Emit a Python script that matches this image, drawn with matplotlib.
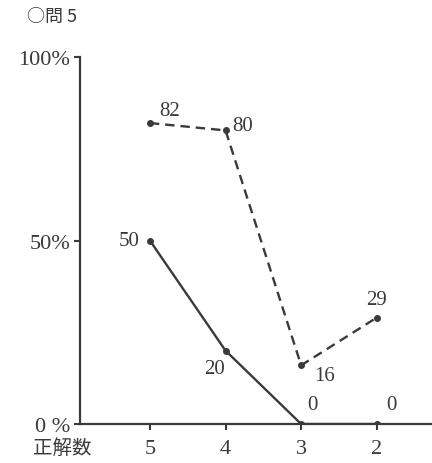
import matplotlib
matplotlib.use("Agg")
import matplotlib.pyplot as plt

plt.rcParams["font.family"] = ["Liberation Serif", "Noto Sans CJK JP"]

# ---------------------------------------------------------------------------
# Data
# ---------------------------------------------------------------------------
categories = ["5", "4", "3", "2"]
solid_vals = [50, 20, 0, 0]
dashed_vals = [82, 80, 16, 29]
ytick_vals = [0, 50, 100]
ytick_labels = ["0 %", "50%", "100%"]

INK = "#3a3a3a"

fig = plt.figure(figsize=(4.32, 4.64), dpi=100)
ax = fig.add_axes([0.185, 0.084, 0.815, 0.791])

x = list(range(len(categories)))
ax.plot(x, solid_vals, color=INK, lw=1.7, marker="o", ms=4, zorder=3)
ax.plot(x, dashed_vals, color=INK, lw=1.7, ls=(0, (4, 2.5)), marker="o", ms=4, zorder=3)

# value labels: (dx px, dy px, ha, va)
lab_kw = dict(fontsize=15, color=INK, textcoords="offset pixels")
place_solid = [(-10, 0, "right", "center"), (-1, -8, "right", "top"),
               (6, 10, "left", "bottom"), (9, 10, "left", "bottom")]
place_dashed = [(9, 3, "left", "bottom"), (7, 5, "left", "center"),
                (13, -1, "left", "top"), (0, 9, "center", "bottom")]
for vals, places in [(solid_vals, place_solid), (dashed_vals, place_dashed)]:
    for xi, v, (dx, dy, ha, va) in zip(x, vals, places):
        ax.annotate(str(v), (xi, v), xytext=(dx, dy), ha=ha, va=va, **lab_kw)

ax.set_xlim(-0.925, 3.73)
ax.set_ylim(0, 100)
ax.set_xticks(x)
ax.set_xticklabels(categories)
ax.set_yticks(ytick_vals)
ax.set_yticklabels(ytick_labels)

for s in ["top", "right"]:
    ax.spines[s].set_visible(False)
for s in ["left", "bottom"]:
    ax.spines[s].set_color(INK)
    ax.spines[s].set_linewidth(1.6)

ax.tick_params(axis="both", colors=INK, labelsize=16, width=1.5, length=4)
ax.tick_params(axis="x", pad=7)
ax.tick_params(axis="y", pad=3)

fig.text(0.145, 0.012, "正解数", fontsize=14, color=INK, ha="center", va="bottom")
fig.text(0.062, 0.944, "○問 5", fontsize=13, color=INK, ha="left", va="bottom",
         family=["Noto Sans CJK JP", "Liberation Serif"])

fig.savefig("out.png", dpi=100)
